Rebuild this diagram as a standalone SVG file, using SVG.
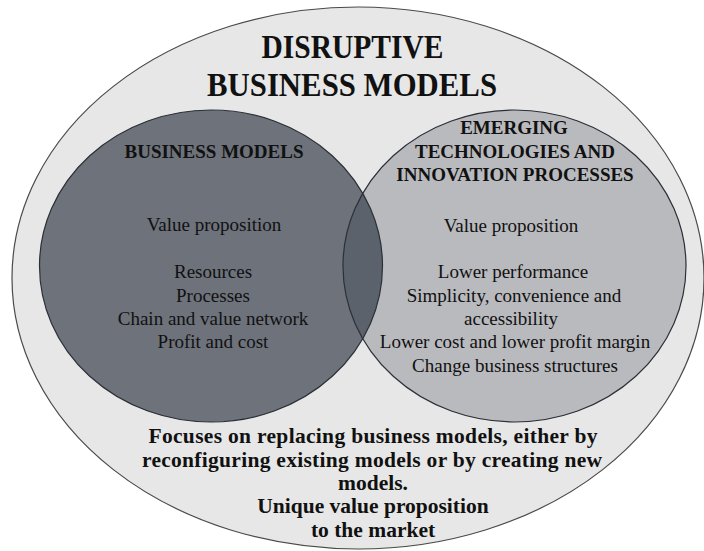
<svg xmlns="http://www.w3.org/2000/svg" width="704" height="551" viewBox="0 0 704 551">
<style>
  .outline{fill:none;stroke:#2b2f36;stroke-width:1.2}
  .title{font-family:"Liberation Serif","Times New Roman",serif;font-weight:bold;font-size:34px;fill:#111;text-anchor:middle}
  .hdr{font-family:"Liberation Serif","Times New Roman",serif;font-weight:bold;font-size:19px;fill:#111;text-anchor:middle}
  .body{font-family:"Liberation Serif","Times New Roman",serif;font-size:19px;fill:#111;text-anchor:middle}
  .foot{font-family:"Liberation Serif","Times New Roman",serif;font-weight:bold;font-size:21.5px;fill:#111;text-anchor:middle}
</style>
<defs>
  <clipPath id="clipLeft"><ellipse cx="211" cy="266" rx="171.5" ry="156"/></clipPath>
</defs>
<g id="outer">
  <ellipse cx="358" cy="278" rx="346" ry="271" fill="#e7e7e7" stroke="#4a4a4a" stroke-width="1.2"/>
  <text class="title" x="352.5" y="58" textLength="182" lengthAdjust="spacingAndGlyphs">DISRUPTIVE</text>
  <text class="title" x="352" y="96" textLength="290" lengthAdjust="spacingAndGlyphs">BUSINESS MODELS</text>
</g>
<g id="business-models">
  <ellipse cx="211" cy="266" rx="171.5" ry="156" fill="#6d727b"/>
</g>
<g id="emerging-technologies">
  <ellipse cx="514.5" cy="266" rx="171.5" ry="156" fill="#b9babe"/>
</g>
<g id="overlap">
  <ellipse cx="514.5" cy="266" rx="171.5" ry="156" fill="#5c626c" clip-path="url(#clipLeft)"/>
  <ellipse class="outline" cx="211" cy="266" rx="171.5" ry="156"/>
  <ellipse class="outline" cx="514.5" cy="266" rx="171.5" ry="156"/>
</g>
<g id="business-models-text">
  <text class="hdr" x="214" y="158">BUSINESS MODELS</text>
  <text class="body" x="214" y="231">Value proposition</text>
  <text class="body" x="213" y="278">Resources</text>
  <text class="body" x="213" y="302">Processes</text>
  <text class="body" x="213" y="325">Chain and value network</text>
  <text class="body" x="213" y="348">Profit and cost</text>
</g>
<g id="emerging-technologies-text">
  <text class="hdr" x="514" y="134">EMERGING</text>
  <text class="hdr" x="515" y="158">TECHNOLOGIES AND</text>
  <text class="hdr" x="515" y="181">INNOVATION PROCESSES</text>
  <text class="body" x="511" y="232">Value proposition</text>
  <text class="body" x="513" y="278">Lower performance</text>
  <text class="body" x="514" y="302">Simplicity, convenience and</text>
  <text class="body" x="511" y="325">accessibility</text>
  <text class="body" x="515" y="348">Lower cost and lower profit margin</text>
  <text class="body" x="515" y="372">Change business structures</text>
</g>
<g id="summary">
  <text class="foot" x="373" y="443" textLength="449" lengthAdjust="spacing">Focuses on replacing business models, either by</text>
  <text class="foot" x="372" y="467" textLength="460" lengthAdjust="spacing">reconfiguring existing models or by creating new</text>
  <text class="foot" x="373" y="490">models.</text>
  <text class="foot" x="373" y="513">Unique value proposition</text>
  <text class="foot" x="373" y="537">to the market</text>
</g>
</svg>
